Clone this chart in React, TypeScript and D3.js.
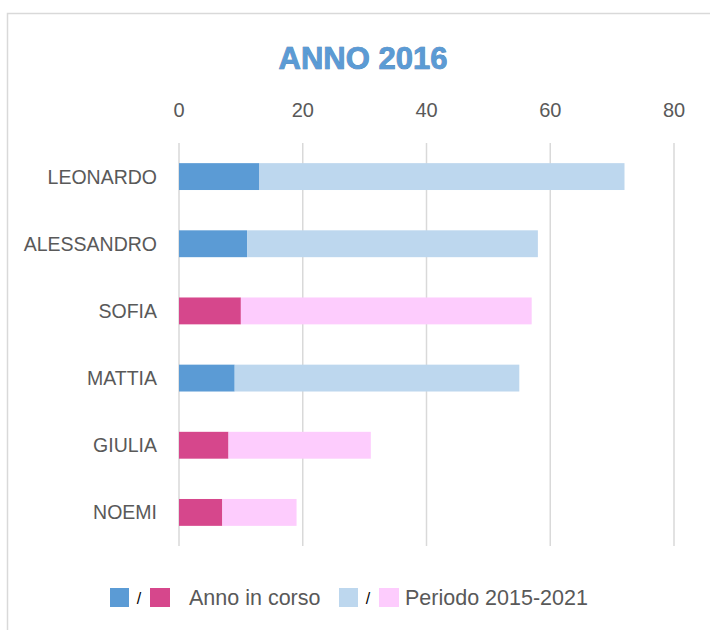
import { useEffect, useRef } from 'react'
import * as d3 from 'd3'

// ─── Data ────────────────────────────────────────────────────────────────────

const names = ['LEONARDO', 'ALESSANDRO', 'SOFIA', 'MATTIA', 'GIULIA', 'NOEMI']
const gender = ['M', 'M', 'F', 'M', 'F', 'F']
// stacked: current year + rest of the 2015-2021 period
const annoInCorso = [13, 11, 10, 9, 8, 7]
const periodo = [59, 47, 47, 46, 23, 12]
const xTicks = [0, 20, 40, 60, 80]
const legendLabels = ['Anno in corso', 'Periodo 2015-2021']
const title = 'ANNO 2016'

// ─── Theme ───────────────────────────────────────────────────────────────────

const colors = {
  blueDark: '#5b9bd5',
  blueLight: '#bdd7ee',
  pinkDark: '#d6478c',
  pinkLight: '#fdccfd',
  grid: '#d9d9d9',
  text: '#595959',
  border: '#d9d9d9',
}
const font = '"Liberation Sans", Arial, sans-serif'

const W = 710
const H = 630

export default function App() {
  const ref = useRef<SVGSVGElement>(null)

  useEffect(() => {
    if (!ref.current) return
    const svg = d3.select(ref.current)
    svg.selectAll('*').remove()
    svg.style('font-family', font)

    // outer chart border (runs off the right/bottom)
    svg.append('rect')
      .attr('x', 7.5)
      .attr('y', 13.5)
      .attr('width', 800)
      .attr('height', 700)
      .attr('fill', 'white')
      .attr('stroke', colors.border)
      .attr('stroke-width', 1.5)

    // title
    svg.append('text')
      .attr('x', 363)
      .attr('y', 69)
      .attr('text-anchor', 'middle')
      .attr('font-size', 31)
      .attr('font-weight', 'bold')
      .attr('fill', colors.blueDark)
      .attr('stroke', '#3f74a8')
      .attr('stroke-width', 0.7)
      .attr('paint-order', 'stroke')
      .text(title)

    const x = d3.scaleLinear().domain([0, 80]).range([179, 674])
    const y = d3.scaleBand().domain(names).range([143, 546]).paddingInner(0.6).paddingOuter(0.3)

    // gridlines
    svg.append('g')
      .selectAll('line')
      .data(xTicks)
      .join('line')
      .attr('x1', (d) => x(d))
      .attr('x2', (d) => x(d))
      .attr('y1', 143)
      .attr('y2', 546)
      .attr('stroke', colors.grid)
      .attr('stroke-width', 1.5)

    // top axis labels
    svg.append('g')
      .selectAll('text')
      .data(xTicks)
      .join('text')
      .attr('x', (d) => x(d))
      .attr('y', 117)
      .attr('text-anchor', 'middle')
      .attr('font-size', 20)
      .attr('fill', colors.text)
      .text((d) => String(d))

    // stacked bars
    const rows = names.map((name, i) => ({ name, g: gender[i], anno: annoInCorso[i], periodo: periodo[i] }))
    const stack = d3.stack<(typeof rows)[number]>().keys(['anno', 'periodo'])(rows as any)
    const fill = (key: string, g: string) =>
      key === 'anno'
        ? g === 'M' ? colors.blueDark : colors.pinkDark
        : g === 'M' ? colors.blueLight : colors.pinkLight

    stack.forEach((layer) => {
      svg.append('g')
        .selectAll('rect')
        .data(layer)
        .join('rect')
        .attr('x', (d) => x(d[0]))
        .attr('y', (d) => y(d.data.name)!)
        .attr('width', (d) => x(d[1]) - x(d[0]))
        .attr('height', y.bandwidth())
        .attr('fill', (d) => fill(layer.key, d.data.g))
    })

    // category labels
    svg.append('g')
      .selectAll('text')
      .data(names)
      .join('text')
      .attr('x', 157)
      .attr('y', (d) => y(d)! + y.bandwidth() / 2 + 7)
      .attr('text-anchor', 'end')
      .attr('font-size', 19.5)
      .attr('fill', colors.text)
      .text((d) => d)

    // legend
    const legendItems = [
      { label: legendLabels[0], a: colors.blueDark, b: colors.pinkDark, x0: 110, tx: 189 },
      { label: legendLabels[1], a: colors.blueLight, b: colors.pinkLight, x0: 339, tx: 405 },
    ]
    const lg = svg.append('g')
    legendItems.forEach((it) => {
      lg.append('rect').attr('x', it.x0).attr('y', 588).attr('width', 19).attr('height', 19).attr('fill', it.a)
      lg.append('text')
        .attr('x', it.x0 + 29)
        .attr('y', 604)
        .attr('text-anchor', 'middle')
        .attr('font-size', 16)
        .attr('fill', '#000')
        .text('/')
      lg.append('rect').attr('x', it.x0 + 40).attr('y', 588).attr('width', 20).attr('height', 19).attr('fill', it.b)
      lg.append('text')
        .attr('x', it.tx)
        .attr('y', 605)
        .attr('font-size', 21.5)
        .attr('fill', colors.text)
        .text(it.label)
    })
  }, [])

  return (
    <div style={{ position: 'absolute', left: 0, top: 0 }}>
      <svg ref={ref} width={W} height={H} style={{ display: 'block' }} />
    </div>
  )
}
